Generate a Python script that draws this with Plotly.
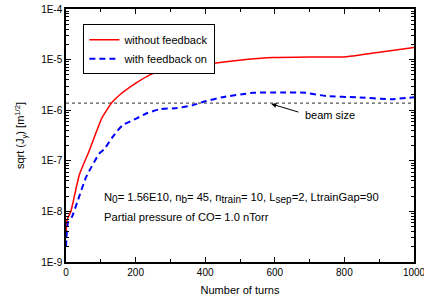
import plotly.graph_objects as go
import numpy as np

turns_red = [0, 3, 14, 38, 67, 104, 133, 154, 203, 241, 270, 350, 414, 517, 594, 700, 797, 900, 1000]
jy_red = [3.0e-9, 6.8e-9, 1.0e-8, 5.2e-8, 1.6e-7, 7.2e-7, 1.45e-6, 2.0e-6, 3.5e-6, 5.0e-6, 5.8e-6, 7.3e-6, 8.3e-6, 1.0e-5, 1.1e-5, 1.13e-5, 1.13e-5, 1.4e-5, 1.73e-5]

turns_blue = [0, 6, 17, 32, 58, 96, 110, 133, 162, 203, 232, 270, 319, 365, 400, 449, 536, 620, 690, 748, 835, 933, 1000]
jy_blue = [2.0e-9, 6.2e-9, 7.8e-9, 1.5e-8, 4.8e-8, 1.4e-7, 1.7e-7, 2.9e-7, 5.0e-7, 6.9e-7, 8.7e-7, 1.05e-6, 1.1e-6, 1.26e-6, 1.5e-6, 1.8e-6, 2.2e-6, 2.25e-6, 2.2e-6, 1.9e-6, 1.8e-6, 1.65e-6, 1.8e-6]

beam_size = 1.38e-6

ytick_vals = [1e-9, 1e-8, 1e-7, 1e-6, 1e-5, 1e-4]
ytick_text = ["1E-9", "1E-8", "1E-7", "1E-6", "1E-5", "1E-4"]
xtick_vals = [0, 200, 400, 600, 800, 1000]

FONT = "Liberation Sans, Arial, sans-serif"
minor_y = [m * 10.0 ** e for e in range(-9, -4) for m in range(2, 10)]

fig = go.Figure()
fig.add_trace(go.Scatter(x=[0, 1000], y=[beam_size, beam_size], mode="lines",
                         line=dict(color="#555555", width=1.2, dash="dot"), showlegend=False))
fig.add_trace(go.Scatter(x=turns_red, y=jy_red, mode="lines", name="without feedback",
                         line=dict(color="red", width=1.5, shape="spline", smoothing=0.5)))
fig.add_trace(go.Scatter(x=turns_blue, y=jy_blue, mode="lines", name="with feedback on",
                         line=dict(color="blue", width=2, dash="6px,4px", shape="spline", smoothing=0.5)))

axis_common = dict(showline=True, linecolor="black", linewidth=1.5, mirror="ticks",
                   ticks="inside", ticklen=5, tickcolor="black", showgrid=False, zeroline=False,
                   automargin=False,
                   tickfont=dict(size=10, color="black", family=FONT))

fig.update_xaxes(range=[0, 1000], tickvals=xtick_vals, ticklabeloverflow="allow",
                 minor=dict(ticks="inside", ticklen=3, tickcolor="black", dtick=100, showgrid=False),
                 title=dict(text="Number of turns", font=dict(size=11, color="black", family=FONT), standoff=10),
                 **axis_common)
fig.update_yaxes(type="log", range=[-9, -4], tickvals=ytick_vals, ticktext=ytick_text,
                 title=dict(text="sqrt (J<sub>y</sub>) [m<sup>1/2</sup>]", font=dict(size=11, color="black", family=FONT), standoff=14),
                 **axis_common)
fig.update_layout(
    yaxis2=dict(type="log", range=[-9, -4], overlaying="y", side="left", tickvals=minor_y,
                ticks="inside", ticklen=3, tickcolor="black", showticklabels=False,
                showgrid=False, zeroline=False, showline=False, automargin=False),
    yaxis3=dict(type="log", range=[-9, -4], overlaying="y", side="right", tickvals=minor_y,
                ticks="inside", ticklen=3, tickcolor="black", showticklabels=False,
                showgrid=False, zeroline=False, showline=False, automargin=False),
)
fig.add_trace(go.Scatter(x=[None], y=[None], yaxis="y2", showlegend=False, hoverinfo="skip"))
fig.add_trace(go.Scatter(x=[None], y=[None], yaxis="y3", showlegend=False, hoverinfo="skip"))

def sub(s):
    return '<sub><span style="font-size:10px">' + s + '</span></sub>'

fig.add_annotation(x=103, y=np.log10(1.84e-8), xref="x", yref="y", showarrow=False, xanchor="left",
                   text="N" + sub("0") + "= 1.56E10, n" + sub("b") + "= 45, n" + sub("train") +
                        "= 10, L" + sub("sep") + "=2, LtrainGap=90",
                   font=dict(size=11.2, color="black", family=FONT))
fig.add_annotation(x=103, y=np.log10(7.8e-9), xref="x", yref="y", showarrow=False, xanchor="left",
                   text="Partial pressure of CO= 1.0 nTorr",
                   font=dict(size=11.2, color="black", family=FONT))
fig.add_annotation(x=590, y=np.log10(1.33e-6), xref="x", yref="y",
                   ax=672, ay=np.log10(9.0e-7), axref="x", ayref="y",
                   showarrow=True, arrowhead=2, arrowsize=1, arrowwidth=1, arrowcolor="black",
                   text="")
fig.add_annotation(x=680, y=np.log10(8.0e-7), xref="x", yref="y", showarrow=False, xanchor="left",
                   text="beam size", font=dict(size=11, color="black", family=FONT))

fig.update_layout(width=424, height=305, margin=dict(l=66, r=10, t=9, b=43),
                  plot_bgcolor="white", paper_bgcolor="white",
                  font=dict(family=FONT, color="black"),
                  legend=dict(x=0.05, y=0.94, xanchor="left", yanchor="top",
                              bgcolor="white", bordercolor="black", borderwidth=1,
                              font=dict(size=11, color="black", family=FONT),
                              tracegroupgap=0, itemwidth=30))

fig.write_html("out.html", config={"displayModeBar": False},
               post_script="document.body.style.margin='0px';")
